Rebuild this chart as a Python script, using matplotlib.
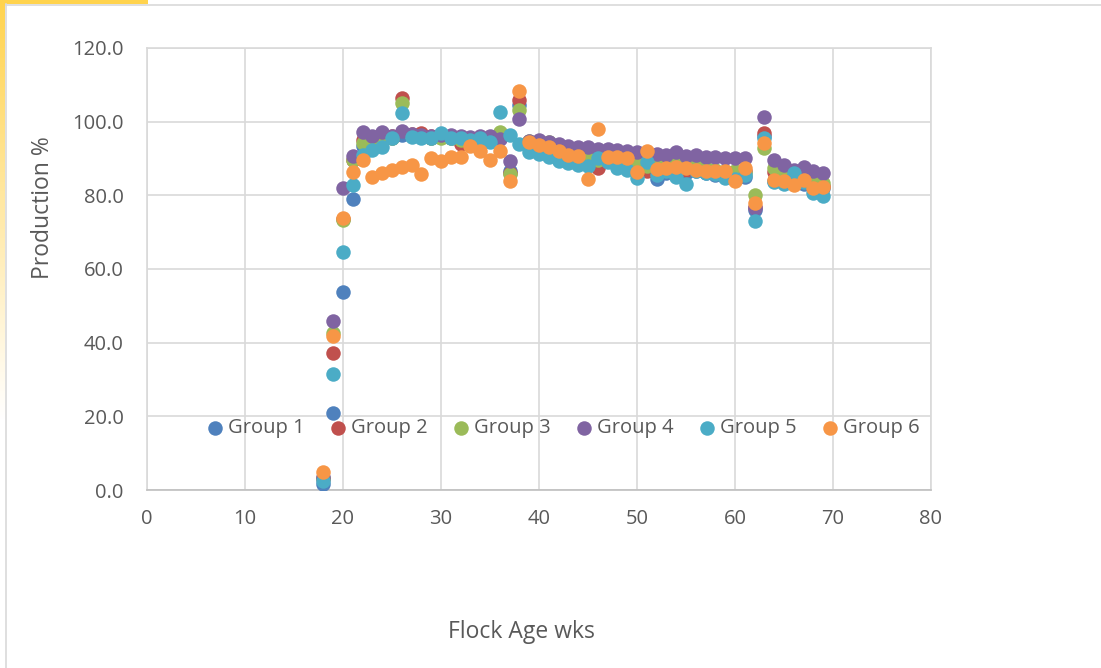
import matplotlib
matplotlib.use("Agg")
import matplotlib.pyplot as plt
import numpy as np
from matplotlib.lines import Line2D
from matplotlib.patches import Rectangle

plt.rcParams['font.family'] = ['Open Sans', 'DejaVu Sans']

weeks = list(range(18, 70))

group1 = [1.5, 20.8, 53.8, 78.9, 93.5, 94.5, 95.5, 95.5, 96.5, 96.0, 96.0, 95.5, 96.0, 95.5, 94.5, 94.5, 94.0, 95.0,
          95.5, 86.5, 104.5, 94.5, 94.0, 93.0, 92.5, 91.5, 91.0, 90.0, 88.0, 90.5, 88.5, 88.0, 86.0, 87.5, 84.5, 86.0,
          86.5, 86.0, 86.5, 86.0, 85.5, 85.5, 85.0, 85.0, 76.0, 96.0, 84.0, 83.5, 83.0, 83.0, 82.5, 82.0]
group2 = [3.0, 37.2, 73.5, 89.5, 95.0, 95.5, 96.5, 96.0, 106.3, 96.7, 96.8, 96.0, 96.2, 96.0, 94.0, 95.0, 95.5, 95.8,
          96.0, 86.0, 106.0, 94.5, 94.5, 93.5, 92.5, 92.0, 91.5, 91.0, 87.5, 91.0, 90.0, 89.5, 88.5, 86.5, 88.0, 87.5,
          88.0, 87.0, 87.5, 87.0, 86.5, 86.0, 86.0, 86.5, 76.8, 96.8, 86.3, 85.0, 86.5, 85.0, 84.0, 82.5]
group3 = [3.2, 42.5, 73.3, 89.6, 94.2, 95.0, 96.0, 95.5, 105.2, 96.0, 95.8, 95.5, 95.5, 95.5, 95.0, 95.3, 95.0, 95.0,
          97.3, 85.7, 103.2, 94.8, 94.5, 94.5, 93.0, 92.5, 92.0, 91.0, 89.5, 91.5, 90.5, 89.8, 89.0, 88.0, 88.5, 88.0,
          88.5, 88.0, 88.0, 87.5, 87.0, 86.5, 86.5, 86.0, 80.1, 92.8, 87.5, 85.5, 84.5, 84.0, 84.0, 83.3]
group4 = [3.5, 45.8, 81.9, 90.6, 97.3, 96.0, 97.3, 96.0, 97.6, 96.7, 96.5, 96.2, 96.5, 96.3, 96.0, 95.9, 96.0, 96.2,
          95.2, 89.4, 100.8, 94.8, 95.0, 94.5, 94.0, 93.5, 93.2, 93.0, 92.7, 92.5, 92.3, 92.0, 91.8, 91.5, 91.3, 91.0,
          91.8, 90.8, 91.0, 90.3, 90.5, 90.2, 90.0, 90.0, 76.5, 101.3, 89.6, 88.3, 87.0, 87.8, 86.6, 86.0]
group5 = [2.5, 31.4, 64.7, 82.8, 91.0, 92.3, 93.0, 95.5, 102.3, 95.8, 95.5, 95.6, 97.0, 95.7, 95.5, 95.0, 95.5, 94.5,
          102.5, 96.3, 94.0, 91.9, 91.2, 90.3, 89.3, 88.8, 88.3, 88.0, 90.2, 89.0, 87.3, 87.0, 84.8, 89.0, 85.5, 86.5,
          85.0, 83.2, 86.5, 86.0, 85.8, 84.8, 84.5, 85.5, 72.9, 95.5, 83.5, 83.0, 86.0, 83.5, 80.6, 79.8]
group6 = [4.8, 41.8, 73.9, 86.3, 89.6, 85.1, 86.0, 87.0, 87.8, 88.2, 85.8, 90.1, 89.2, 90.5, 90.5, 93.4, 92.1, 89.6,
          92.1, 84.0, 108.4, 94.6, 93.8, 93.0, 92.1, 91.0, 90.7, 84.4, 97.9, 90.4, 90.3, 90.0, 86.2, 92.1, 87.1, 87.4,
          87.6, 87.4, 86.9, 86.5, 86.5, 86.6, 84.0, 87.3, 77.8, 94.1, 84.2, 84.0, 82.8, 84.1, 82.0, 82.2]

series_names = ["Group 1", "Group 2", "Group 3", "Group 4", "Group 5", "Group 6"]
series_values = [group1, group2, group3, group4, group5, group6]
colors = ["#4F81BD", "#C0504D", "#9BBB59", "#8064A2", "#4BACC6", "#F79646"]

x_ticks = [0, 10, 20, 30, 40, 50, 60, 70, 80]
y_ticks = [0, 20, 40, 60, 80, 100, 120]

W, H = 1101, 668
fig = plt.figure(figsize=(W / 100, H / 100), dpi=100)
fig.patch.set_facecolor("white")

# yellow edge strips (screenshot decoration)
grad = np.linspace(1, 0, 256).reshape(-1, 1)
ax_y = fig.add_axes([0, 1 - 420 / H, 5 / W, 420 / H])
ax_y.imshow(grad, aspect='auto', cmap=matplotlib.colors.LinearSegmentedColormap.from_list(
    'y', ["#FFFFFF", "#FFD34D"]), extent=[0, 1, 0, 1])
ax_y.axis('off')
fig.patches.append(Rectangle((0, 1 - 4 / H), 148 / W, 4 / H, transform=fig.transFigure,
                             facecolor="#FFD34D", edgecolor="none", zorder=0))
# chart border
fig.add_artist(Line2D([6 / W, 6 / W], [0, 1 - 4 / H], transform=fig.transFigure, color="#D9D9D9", lw=1.2))
fig.add_artist(Line2D([6 / W, 1], [1 - 4.5 / H, 1 - 4.5 / H], transform=fig.transFigure, color="#D9D9D9", lw=1.2))

ax = fig.add_axes([147 / W, 1 - 490 / H, (931 - 147) / W, (490 - 48) / H])
ax.set_xlim(0, 80)
ax.set_ylim(0, 120)
ax.set_xticks(x_ticks)
ax.set_yticks(y_ticks)
ax.set_yticklabels([f"{v:.1f}" for v in y_ticks])
ax.grid(True, color="#D9D9D9", lw=1.2)
ax.set_axisbelow(True)
for s in ax.spines.values():
    s.set_color("#D9D9D9")
    s.set_linewidth(1.2)
ax.spines['bottom'].set_color("#BFBFBF")
ax.tick_params(length=0, labelsize=14.5, labelcolor="#595959")
ax.tick_params(axis='y', pad=17)
ax.tick_params(axis='x', pad=14)

for name, vals, c in zip(series_names, series_values, colors):
    ax.scatter(weeks, vals, s=109, color=c, label=name, linewidths=0, zorder=3)

leg = ax.legend(loc="center left", bbox_to_anchor=((205 - 147) / 784, (490 - 428) / 442), ncol=6,
                frameon=False, fontsize=14.5, markerscale=1.0, handlelength=1.0, handletextpad=0.15,
                columnspacing=1.15, borderaxespad=0, borderpad=0, labelcolor="#595959")

fig.text(43 / W, 1 - 208 / H, "Production %", rotation=90, ha="center", va="center",
         fontsize=16.5, color="#595959")
fig.text(521 / W, 1 - 632 / H, "Flock Age wks", ha="center", va="center", fontsize=16.5, color="#595959")

fig.savefig("out.png", dpi=100)
